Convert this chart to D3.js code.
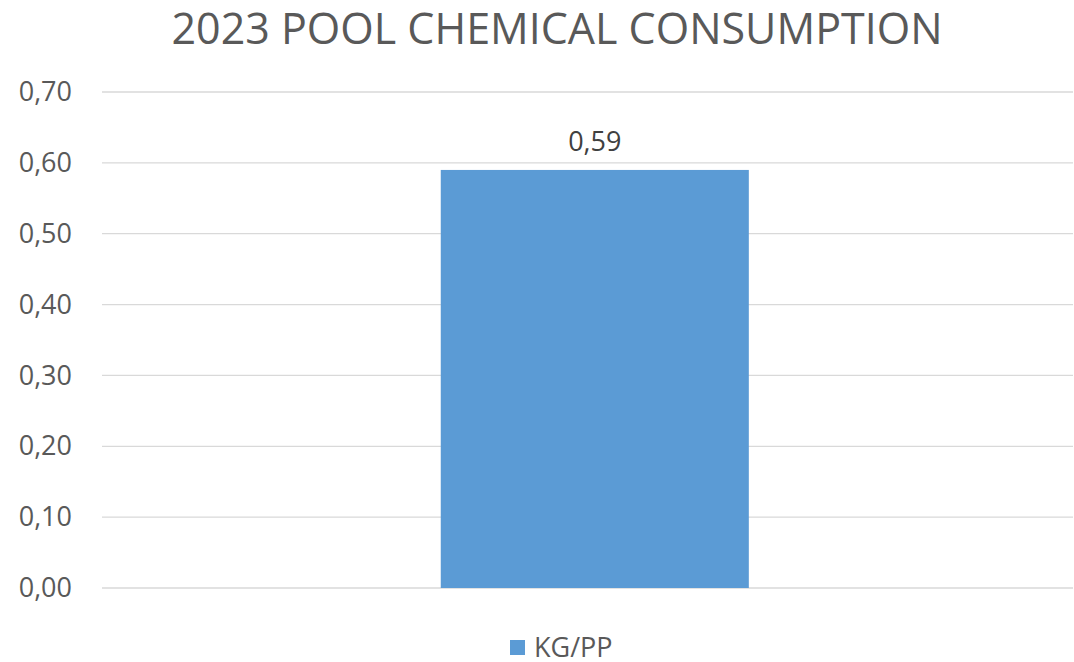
<html>
<script src="https://d3js.org/d3.v7.min.js"></script>
<style>
  body { margin: 0; background: #fff; }
  text { font-family: 'Open Sans', sans-serif; fill: #595959; }
</style>
<body>
<svg class="chart" width="1074" height="662"></svg>
<script>
const width = 1074;
const height = 662;
const title = '2023 POOL CHEMICAL CONSUMPTION';
const categories = ['2023'];
const values = [0.59];
const seriesName = 'KG/PP';
const tickValues = [0, 0.1, 0.2, 0.3, 0.4, 0.5, 0.6, 0.7];

const fmt = v => d3.format('.2f')(v).replace('.', ',');

const plotLeft = 102, plotRight = 1073, plotTop = 92, plotBottom = 588;

var svg = d3.select('svg');

var x = d3.scaleBand()
  .domain(categories)
  .range([plotLeft, plotRight])
  .paddingInner(0.5)
  .paddingOuter(0.538)
  .align(0.511);

var y = d3.scaleLinear()
  .domain([0, 0.7])
  .range([plotBottom, plotTop]);

// gridlines
svg.append('g')
  .selectAll('line')
  .data(tickValues)
  .enter()
  .append('line')
    .attr('x1', plotLeft)
    .attr('x2', plotRight)
    .attr('y1', d => y(d))
    .attr('y2', d => y(d))
    .attr('stroke', '#d9d9d9')
    .attr('stroke-width', 1.3);

// y axis labels
var yAxis = svg.append('g')
  .attr('transform', 'translate(' + (plotLeft - 30) + ',0)')
  .call(d3.axisLeft(y).tickValues(tickValues).tickFormat(fmt).tickSize(0));
yAxis.select('.domain').remove();
yAxis.selectAll('text')
  .attr('x', 0)
  .style('font-family', "'Open Sans', sans-serif")
  .style('font-size', '27px')
  .attr('fill', '#595959');

// bars
svg.append('g')
  .selectAll('rect')
  .data(values)
  .enter()
  .append('rect')
    .attr('x', (d, i) => x(categories[i]))
    .attr('y', d => y(d))
    .attr('width', x.bandwidth())
    .attr('height', d => y(0) - y(d))
    .attr('fill', '#5b9bd5');

// data labels
svg.append('g')
  .selectAll('text')
  .data(values)
  .enter()
  .append('text')
    .attr('x', (d, i) => x(categories[i]) + x.bandwidth() / 2)
    .attr('y', d => y(d) - 19)
    .attr('text-anchor', 'middle')
    .style('font-size', '27px')
    .style('fill', '#404040')
    .text(d => fmt(d));

// title
svg.append('text')
  .attr('x', 557)
  .attr('y', 44)
  .attr('text-anchor', 'middle')
  .style('font-size', '43px')
  .text(title);

// legend
var legend = svg.append('g');
legend.append('rect')
  .attr('x', 510)
  .attr('y', 640)
  .attr('width', 15)
  .attr('height', 15)
  .attr('fill', '#5b9bd5');
legend.append('text')
  .attr('x', 534)
  .attr('y', 657)
  .style('font-size', '27px')
  .text(seriesName);
</script>
</body>
</html>
